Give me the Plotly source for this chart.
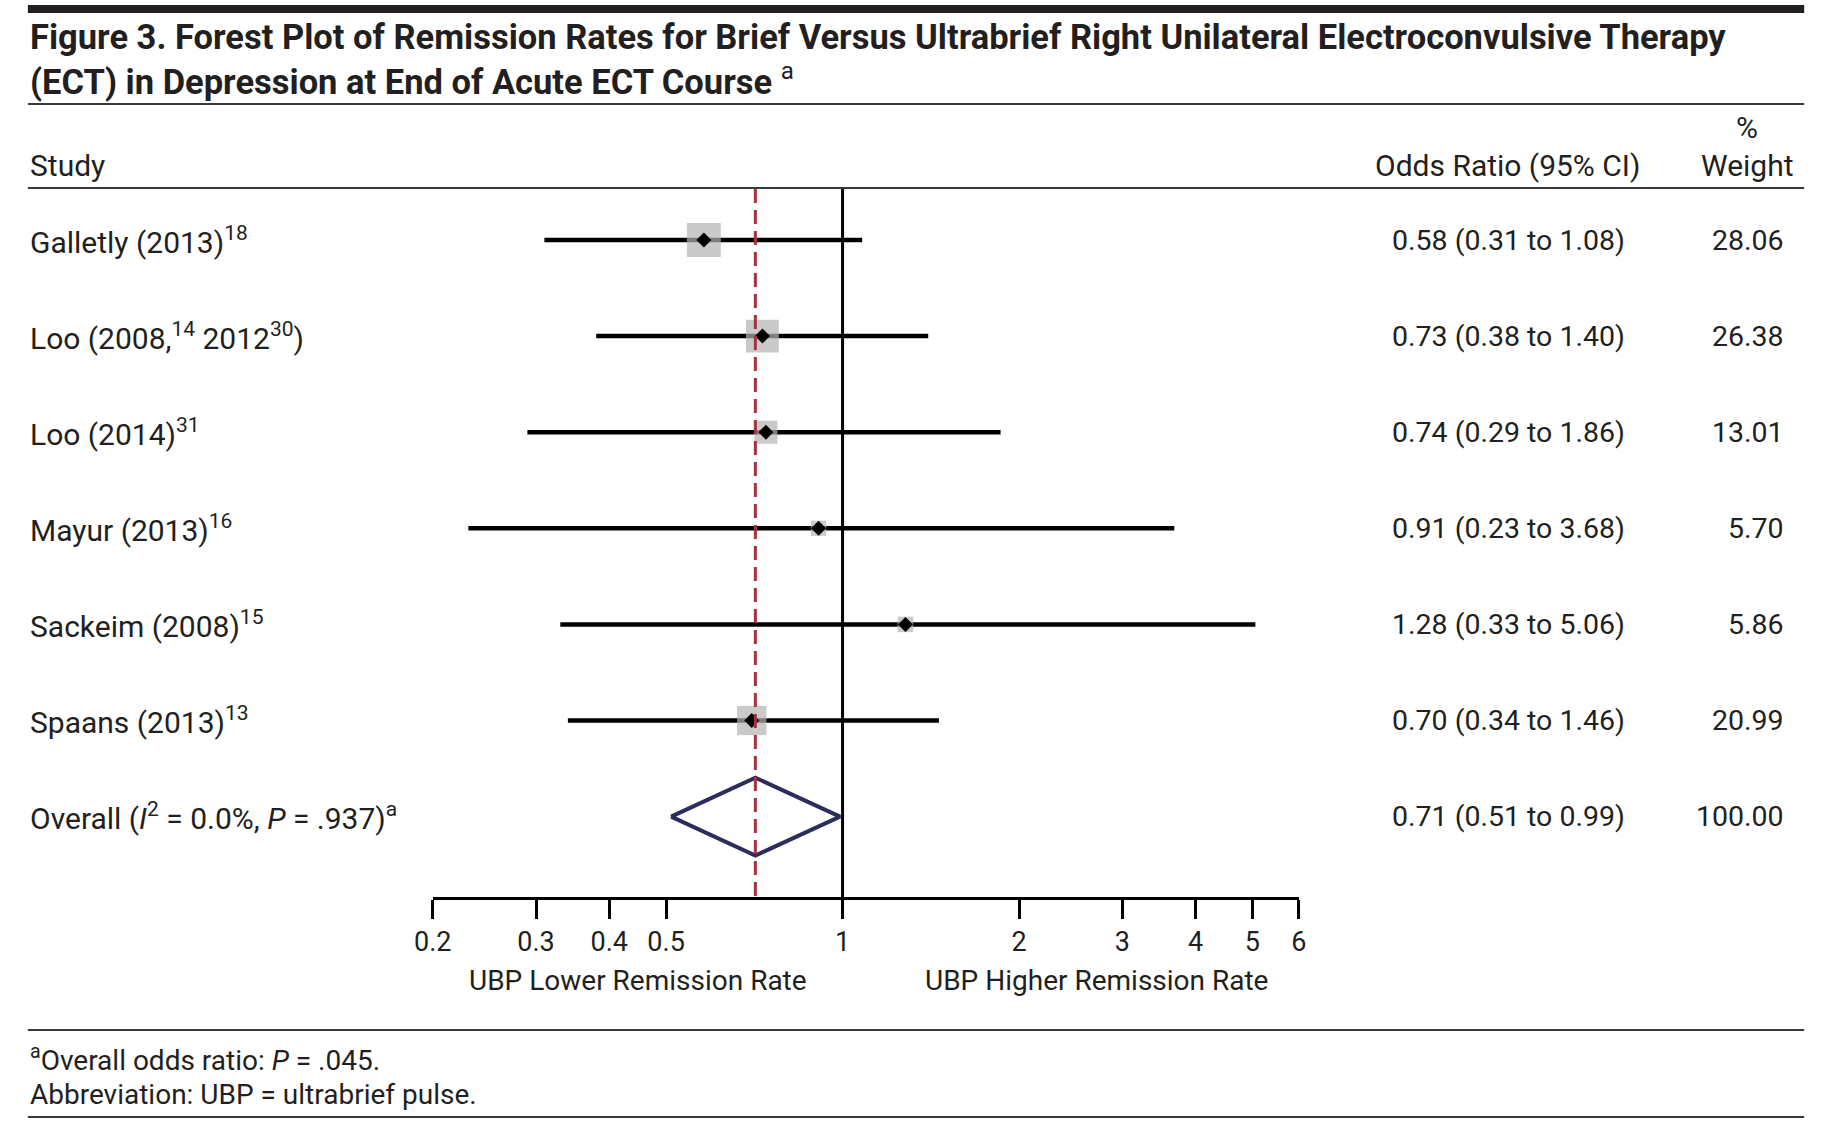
import math
import plotly.graph_objects as go

# ---------------- data ----------------
studies = ["Galletly (2013)<sup>18</sup>",
           "Loo (2008,<sup>14</sup> 2012<sup>30</sup>)",
           "Loo (2014)<sup>31</sup>",
           "Mayur (2013)<sup>16</sup>",
           "Sackeim (2008)<sup>15</sup>",
           "Spaans (2013)<sup>13</sup>"]
odds_ratio = [0.58, 0.73, 0.74, 0.91, 1.28, 0.70]
ci_low = [0.31, 0.38, 0.29, 0.23, 0.33, 0.34]
ci_high = [1.08, 1.40, 1.86, 3.68, 5.06, 1.46]
weights = [28.06, 26.38, 13.01, 5.70, 5.86, 20.99]

overall_label = "Overall (<i>I</i><sup>2</sup> = 0.0%, <i>P</i> = .937)<sup>a</sup>"
overall_or = 0.71
overall_low = 0.51
overall_high = 0.99
overall_weight = 100.00

tick_vals = [0.2, 0.3, 0.4, 0.5, 1, 2, 3, 4, 5, 6]
tick_text = ["0.2", "0.3", "0.4", "0.5", "1", "2", "3", "4", "5", "6"]

title_text = ("Figure 3. Forest Plot of Remission Rates for Brief Versus Ultrabrief Right Unilateral Electroconvulsive Therapy<br>"
              "(ECT) in Depression at End of Acute ECT Course <span style='font-weight:normal'><sup>a</sup></span>")
foot1 = "<sup>a</sup>Overall odds ratio: <i>P</i> = .045."
foot2 = "Abbreviation: UBP = ultrabrief pulse."

# ---------------- layout geometry ----------------
W, H = 1824, 1127
AX_Y = 897          # pixel y of x-axis line
ROW0 = 240          # pixel y of first row
ROW_STEP = 96.1
X_LEFT, X_RIGHT = 420.0, 1299.0
RULE_L, RULE_R = 9, 1812

def py(p):  # pixel y -> paper
    return 1 - p / H

def px(p):
    return p / W

FONT = "Roboto, Lato, sans-serif"
TXT = "#231f20"

n = len(studies)
rows = list(range(n))
overall_row = n

fig = go.Figure()

# CI lines
cx, cy = [], []
for i in rows:
    cx += [ci_low[i], ci_high[i], None]
    cy += [i, i, None]
fig.add_trace(go.Scatter(x=cx, y=cy, mode="lines", line=dict(color="#000000", width=4.5),
                         hoverinfo="skip", showlegend=False))
# weight boxes
fig.add_trace(go.Scatter(x=odds_ratio, y=rows, mode="markers",
                         marker=dict(symbol="square", color="#b4b4b4",
                                     size=[6.4 * math.sqrt(w) for w in weights], line=dict(width=0)),
                         showlegend=False))
# point estimates
fig.add_trace(go.Scatter(x=odds_ratio, y=rows, mode="markers",
                         marker=dict(symbol="diamond", color="#000000", size=11.5, line=dict(width=0)),
                         showlegend=False))
# overall diamond
hh = 0.405
fig.add_trace(go.Scatter(x=[overall_low, overall_or, overall_high, overall_or, overall_low],
                         y=[overall_row, overall_row - hh, overall_row, overall_row + hh, overall_row],
                         mode="lines", line=dict(color="#2b2d5c", width=4),
                         showlegend=False))

y_top = -ROW0 / ROW_STEP
y_bot = (AX_Y - ROW0) / ROW_STEP
y_rule2 = (189 - ROW0) / ROW_STEP

shapes = []
# reference line at 1
shapes.append(dict(type="line", xref="x", yref="y", x0=1, x1=1, y0=y_rule2, y1=y_bot,
                   line=dict(color="#000000", width=3)))
# overall dashed line
shapes.append(dict(type="line", xref="x", yref="y", x0=overall_or, x1=overall_or, y0=y_rule2, y1=y_bot,
                   line=dict(color="#a3343f", width=3, dash="14px,7px")))
# horizontal rules
shapes.append(dict(type="rect", xref="paper", yref="paper", x0=px(RULE_L), x1=px(RULE_R), y0=py(13), y1=py(5),
                   fillcolor="#231f20", line=dict(width=0)))
for yy in [104, 188, 1030, 1117]:
    shapes.append(dict(type="line", xref="paper", yref="paper", x0=px(RULE_L), x1=px(RULE_R), y0=py(yy), y1=py(yy),
                       line=dict(color="#3a3a3a", width=2.2)))

ann = []
ann.append(dict(text=title_text, x=px(9), y=py(59), xref="paper", yref="paper", xanchor="left",
                yanchor="middle", align="left", showarrow=False,
                font=dict(family=FONT, size=34.5, color=TXT, weight="bold")))
ann.append(dict(text="Study", x=px(9), y=py(165), xref="paper", yref="paper", xanchor="left",
                yanchor="middle", showarrow=False, font=dict(family=FONT, size=30, color=TXT)))
ann.append(dict(text="Odds Ratio (95% CI)", x=px(1511), y=py(165), xref="paper", yref="paper",
                xanchor="center", yanchor="middle", showarrow=False, font=dict(family=FONT, size=30, color=TXT)))
ann.append(dict(text="%", x=px(1754), y=py(128), xref="paper", yref="paper",
                xanchor="center", yanchor="middle", showarrow=False, font=dict(family=FONT, size=30, color=TXT)))
ann.append(dict(text="Weight", x=px(1754), y=py(165), xref="paper", yref="paper",
                xanchor="center", yanchor="middle", showarrow=False, font=dict(family=FONT, size=30, color=TXT)))

labels = studies + [overall_label]
ors = odds_ratio + [overall_or]
los = ci_low + [overall_low]
his = ci_high + [overall_high]
ws = weights + [overall_weight]
for i in range(n + 1):
    ann.append(dict(text=labels[i], x=px(9), y=i, xref="paper", yref="y", xanchor="left", yanchor="middle",
                    showarrow=False, font=dict(family=FONT, size=30, color=TXT)))
    ann.append(dict(text=f"{ors[i]:.2f} ({los[i]:.2f} to {his[i]:.2f})", x=px(1392), y=i, xref="paper", yref="y",
                    xanchor="left", yanchor="middle", showarrow=False, font=dict(family=FONT, size=28.5, color=TXT)))
    ann.append(dict(text=f"{ws[i]:.2f}", x=px(1794), y=i, xref="paper", yref="y",
                    xanchor="right", yanchor="middle", showarrow=False, font=dict(family=FONT, size=28.5, color=TXT)))

ann.append(dict(text="UBP Lower Remission Rate", x=px(628), y=py(980), xref="paper", yref="paper",
                xanchor="center", yanchor="middle", showarrow=False, font=dict(family=FONT, size=28, color=TXT)))
ann.append(dict(text="UBP Higher Remission Rate", x=px(1094), y=py(980), xref="paper", yref="paper",
                xanchor="center", yanchor="middle", showarrow=False, font=dict(family=FONT, size=28, color=TXT)))
ann.append(dict(text=foot1, x=px(9), y=py(1058), xref="paper", yref="paper", xanchor="left",
                yanchor="middle", showarrow=False, font=dict(family=FONT, size=28, color=TXT)))
ann.append(dict(text=foot2, x=px(9), y=py(1094), xref="paper", yref="paper", xanchor="left",
                yanchor="middle", showarrow=False, font=dict(family=FONT, size=28, color=TXT)))

fig.update_layout(
    width=W, height=H, margin=dict(l=0, r=0, t=0, b=0),
    paper_bgcolor="white", plot_bgcolor="white",
    showlegend=False, shapes=shapes, annotations=ann,
    xaxis=dict(type="log", domain=[px(X_LEFT), px(X_RIGHT)],
               range=[math.log10(0.2), math.log10(6)],
               tickvals=tick_vals, ticktext=tick_text, ticks="outside", ticklen=19, tickwidth=3,
               tickcolor="#000000", showline=True, linecolor="#000000", linewidth=3,
               showgrid=False, zeroline=False, tickfont=dict(family=FONT, size=27, color=TXT)),
    yaxis=dict(domain=[1 - AX_Y / H, 1], range=[y_bot, y_top], visible=False,
               showgrid=False, zeroline=False),
)

fig.write_html("out.html", config={"displayModeBar": False},
               post_script="document.body.style.margin='0px';document.body.style.overflow='hidden';")
